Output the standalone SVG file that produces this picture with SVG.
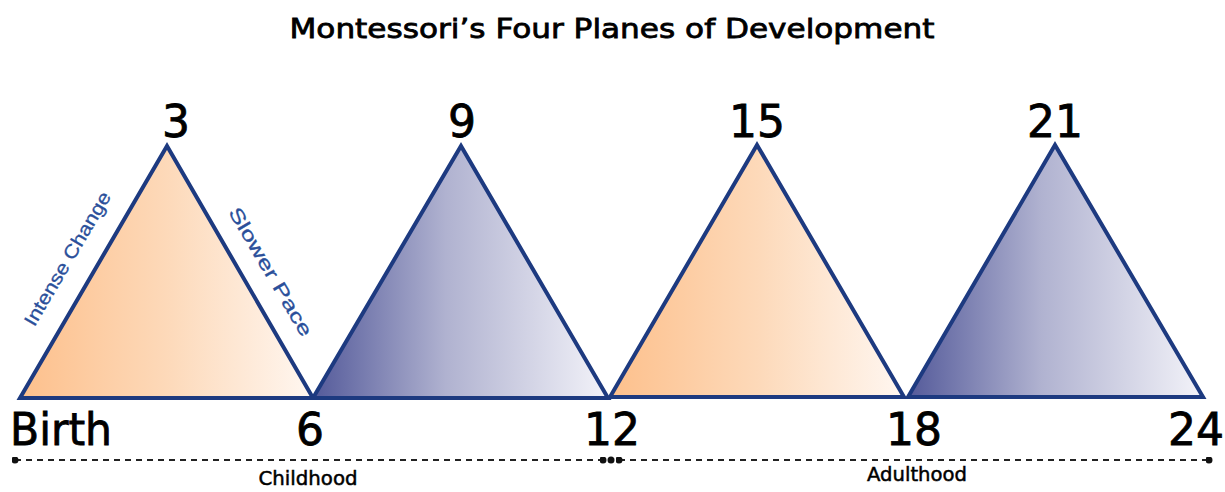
<svg xmlns="http://www.w3.org/2000/svg" width="1225" height="492" viewBox="0 0 1225 492">
<defs>
<linearGradient id="gOrange" x1="0" y1="0" x2="1" y2="0">
<stop offset="0" stop-color="#fdc08c"/>
<stop offset="0.5" stop-color="#fdd9b9"/>
<stop offset="1" stop-color="#fff7f1"/>
</linearGradient>
<linearGradient id="gBlue" x1="0" y1="0" x2="1" y2="0">
<stop offset="0" stop-color="#545a9a"/>
<stop offset="0.45" stop-color="#b0b2d0"/>
<stop offset="1" stop-color="#f3f3f9"/>
</linearGradient>
<marker id="dot" viewBox="0 0 10 10" refX="5" refY="5" markerWidth="3.5" markerHeight="3.5" markerUnits="strokeWidth">
<circle cx="5" cy="5" r="5" fill="#111"/>
</marker>
<style>
.tri{stroke:#1d3a80;stroke-width:4;stroke-linejoin:miter}
.num{font-family:"DejaVu Sans",sans-serif;font-size:44px;fill:#000;stroke:#000;stroke-width:0.8}
.title{font-family:"DejaVu Sans",sans-serif;font-size:27px;fill:#000;stroke:#000;stroke-width:0.8}
.lab{font-family:"DejaVu Sans",sans-serif;font-size:20px;fill:#000;stroke:#000;stroke-width:0.5}
.side{font-family:"Liberation Sans",sans-serif;font-size:19px;fill:#2a4f9a;stroke:#2a4f9a;stroke-width:0.3}
.dash{stroke:#222;stroke-width:2;stroke-dasharray:6 5;fill:none}
</style>
</defs>
<text class="title" x="612" y="38" text-anchor="middle" textLength="645" lengthAdjust="spacingAndGlyphs">Montessori’s Four Planes of Development</text>
<g id="plane1">
<polygon class="tri" fill="url(#gOrange)" points="20,398 167,146 313,398"/>
<text class="num" x="176" y="137" text-anchor="middle">3</text>
<text class="side" transform="translate(73,262) rotate(-59.5)" text-anchor="middle" textLength="152" lengthAdjust="spacingAndGlyphs">Intense Change</text>
<text class="side" transform="translate(265,275) rotate(59.5)" text-anchor="middle" textLength="146" lengthAdjust="spacingAndGlyphs">Slower Pace</text>
</g>
<g id="plane2">
<polygon class="tri" fill="url(#gBlue)" points="313,398 461,146 608,398"/>
<text class="num" x="462" y="137" text-anchor="middle">9</text>
</g>
<g id="plane3">
<polygon class="tri" fill="url(#gOrange)" points="610,397 757,145 904,397"/>
<text class="num" x="757" y="137" text-anchor="middle">15</text>
</g>
<g id="plane4">
<polygon class="tri" fill="url(#gBlue)" points="908,397 1055,145 1203,397"/>
<text class="num" x="1055" y="137" text-anchor="middle">21</text>
</g>
<g id="axis">
<text class="num" x="10" y="445" textLength="102" lengthAdjust="spacingAndGlyphs">Birth</text>
<text class="num" x="310" y="445" text-anchor="middle">6</text>
<text class="num" x="612" y="445" text-anchor="middle">12</text>
<text class="num" x="914" y="445" text-anchor="middle">18</text>
<text class="num" x="1196" y="445" text-anchor="middle">24</text>
</g>
<g id="connectors">
<line class="dash" x1="15" y1="460" x2="603" y2="460" marker-start="url(#dot)" marker-end="url(#dot)"/>
<line class="dash" x1="619" y1="460" x2="1209" y2="460" marker-start="url(#dot)" marker-end="url(#dot)"/>
<circle cx="611" cy="460" r="3.5" fill="#111"/>
</g>
<g id="periods">
<text class="lab" x="308" y="485" text-anchor="middle" textLength="99" lengthAdjust="spacingAndGlyphs">Childhood</text>
<text class="lab" x="917" y="481" text-anchor="middle" textLength="100" lengthAdjust="spacingAndGlyphs">Adulthood</text>
</g>
</svg>
